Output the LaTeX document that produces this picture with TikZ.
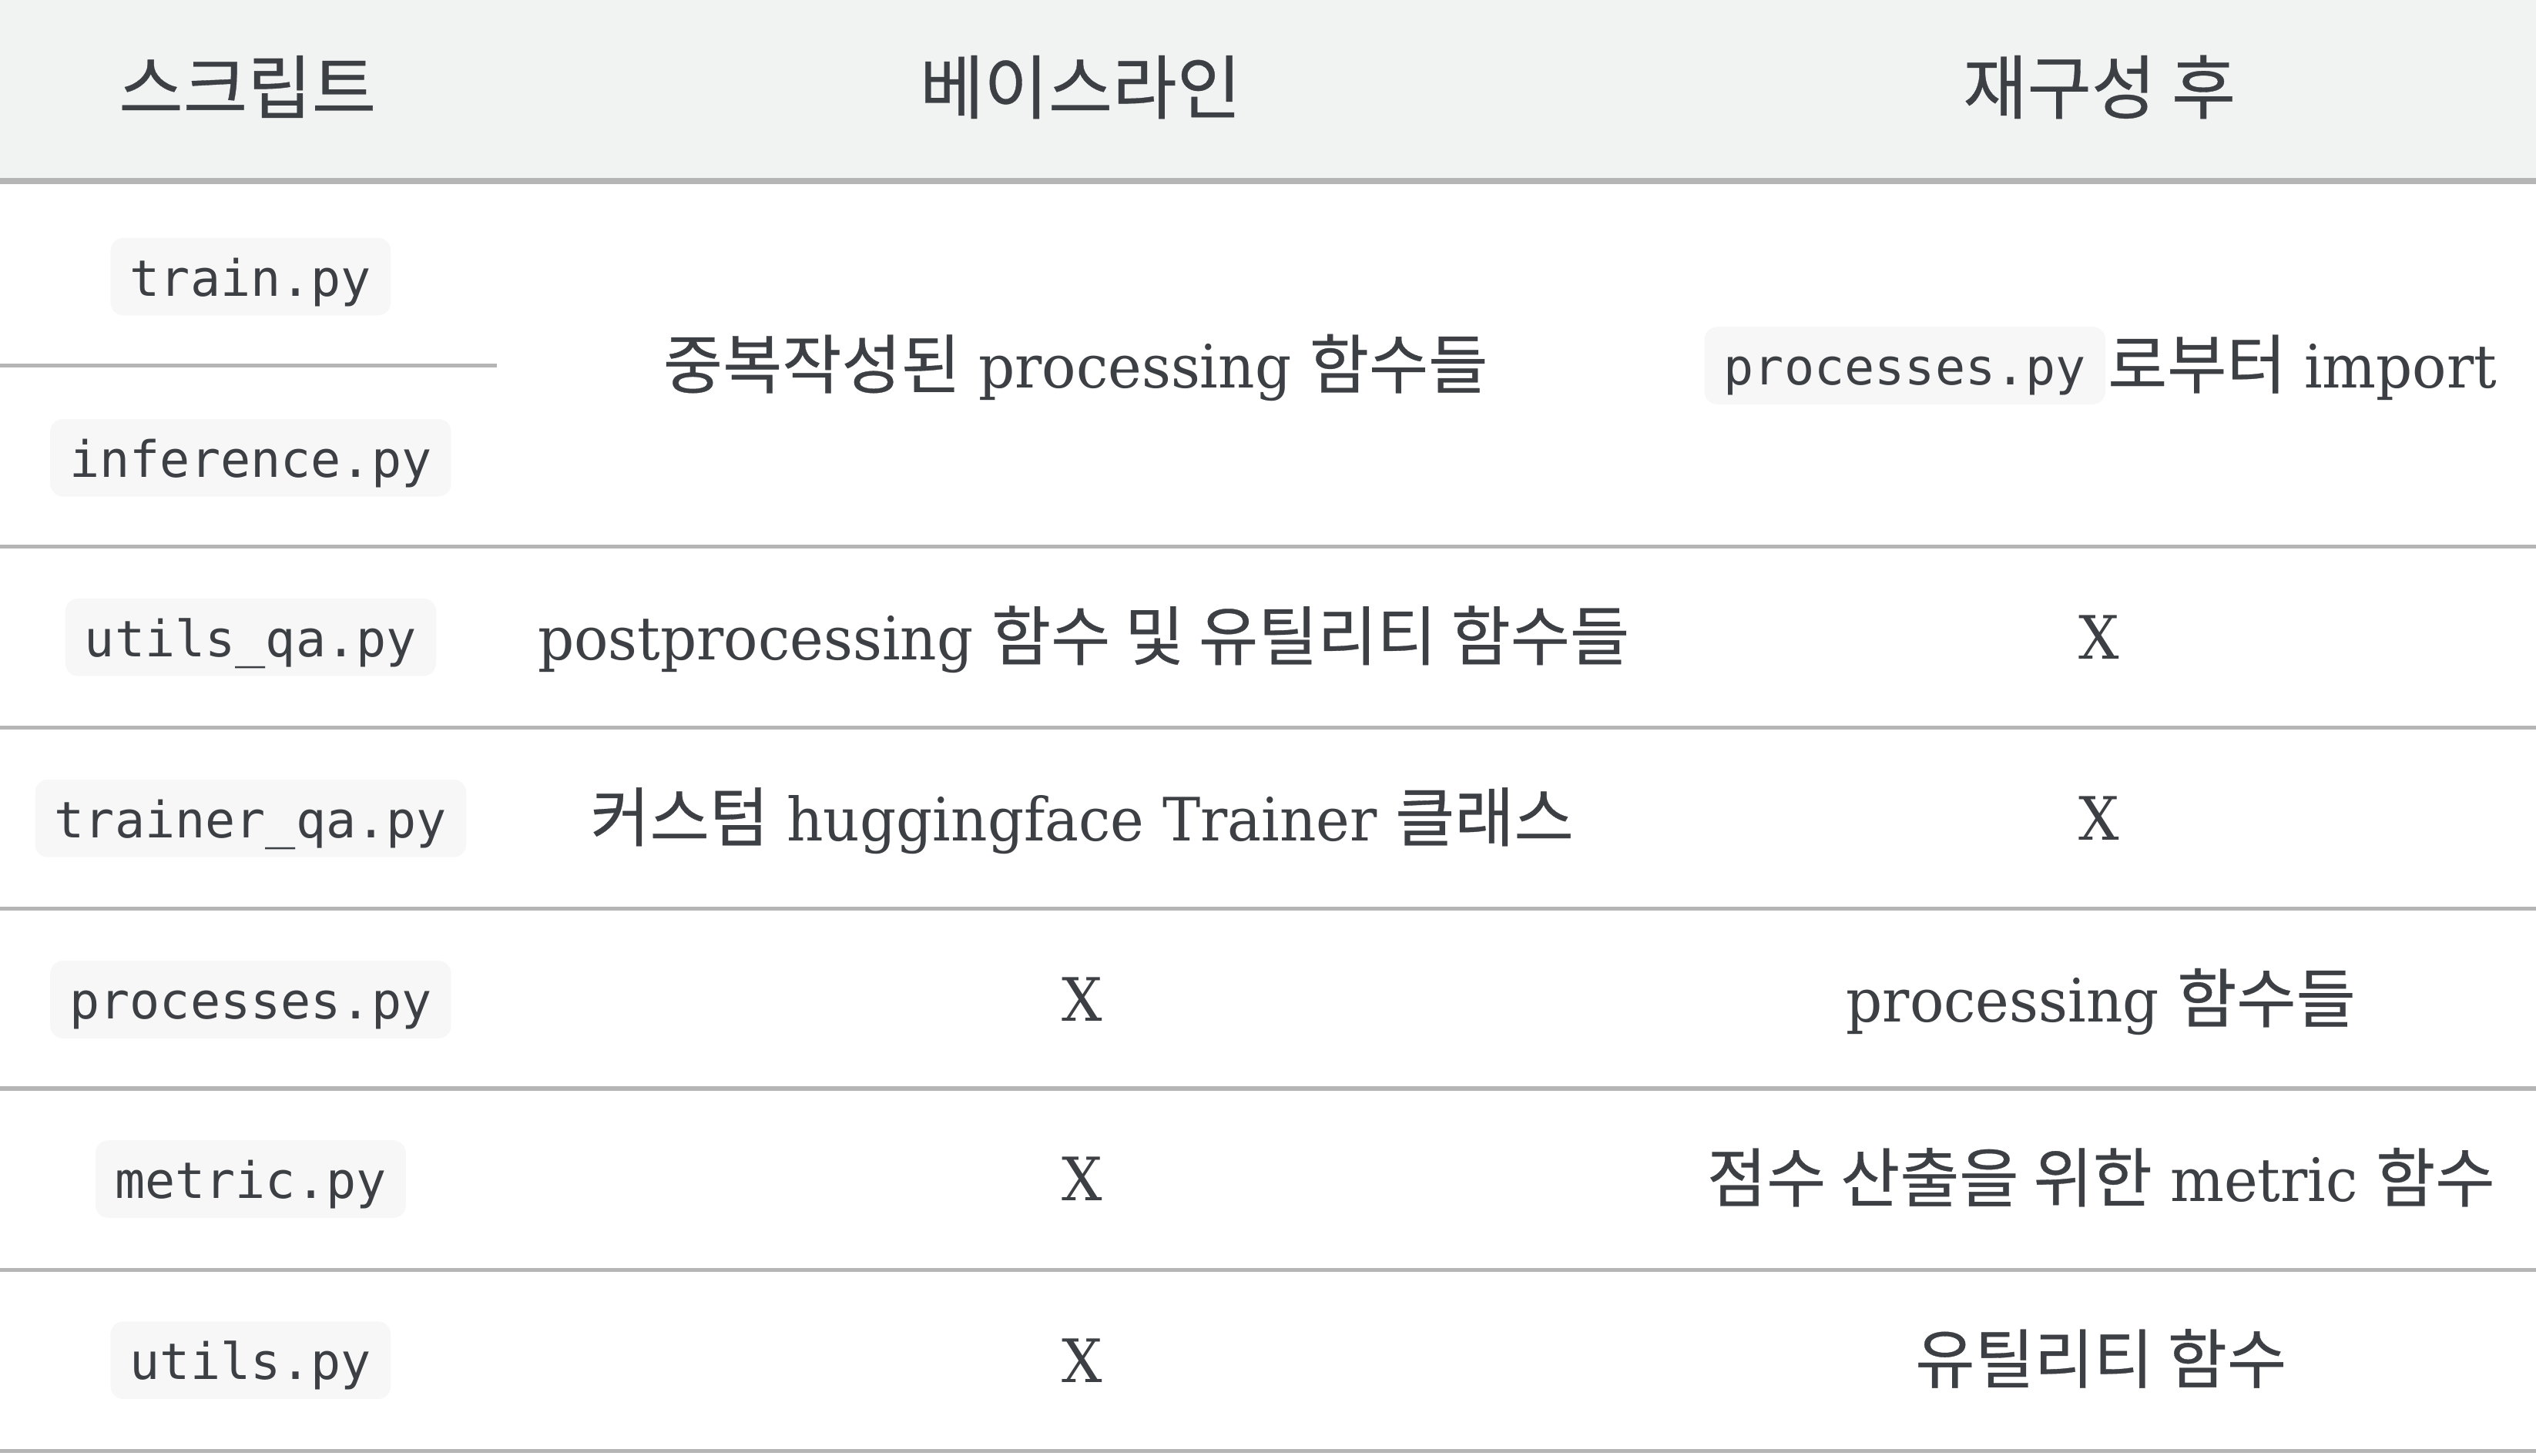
\documentclass[tikz,border=0pt]{standalone}
\usepackage{fontspec}
\setmainfont[FakeStretch=0.95]{DejaVu Serif}
\newfontfamily\krfont[Scale=1.08,FakeBold=0.4]{Noto Sans CJK KR}
\newfontfamily\monofont{DejaVu Sans Mono}
\definecolor{txt}{HTML}{3C3F43}
\definecolor{headbg}{HTML}{F1F3F2}
\definecolor{rule}{HTML}{B5B5B5}
\definecolor{codebg}{HTML}{F7F7F7}
\newcommand{\kr}[1]{{\krfont #1}}
\begin{document}
\begin{tikzpicture}[x=1pt,y=1pt,
  headtxt/.style={text=txt, font=\krfont\fontsize{40}{48}\selectfont, inner sep=0pt, anchor=base},
  celltxt/.style={text=txt, font=\fontsize{37}{44}\selectfont, inner sep=0pt, anchor=base},
  codebox/.style={fill=codebg, rounded corners=8pt, text=txt,
    font=\monofont\fontsize{31}{31}\selectfont, inner xsep=12pt, inner ysep=0pt,
    minimum height=48pt, text height=29pt, text depth=5pt},
  thinrule/.style={draw=rule, line width=2.4pt},
  thickrule/.style={draw=rule, line width=4pt}]
\useasboundingbox (0,0) rectangle (1568,-900);
% header
\fill[headbg] (0,0) rectangle (1568,-110);
\draw[thickrule] (0,-112) -- (1568,-112);
\node[headtxt] (h1) at (153,-70) {스크립트};
\node[headtxt] (h2) at (668,-70) {베이스라인};
\node[headtxt] (h3) at (1298,-70) {재구성 후};
% rules
\draw[thinrule] (0,-226) -- (307,-226);
\foreach \y in {338,450,562,673,785,897} \draw[thinrule] (0,-\y) -- (1568,-\y);
% column 1
\node[codebox] (c1a) at (155,-171) {train.py};
\node[codebox] (c1b) at (155,-283) {inference.py};
\node[codebox] (c2) at (155,-394) {utils\_qa.py};
\node[codebox] (c3) at (155,-506) {trainer\_qa.py};
\node[codebox] (c4) at (155,-618) {processes.py};
\node[codebox] (c5) at (155,-729) {metric.py};
\node[codebox] (c6) at (155,-841) {utils.py};
% column 2
\node[celltxt] (b1) at (665,-240) {\kr{중복작성된} processing \kr{함수들}};
\node[celltxt] (b2) at (670,-408) {postprocessing \kr{함수 및 유틸리티 함수들}};
\node[celltxt] (b3) at (669,-520) {\kr{커스텀} huggingface Trainer \kr{클래스}};
\node[celltxt] (b4) at (669,-631.5) {X};
\node[celltxt] (b5) at (669,-742.5) {X};
\node[celltxt] (b6) at (669,-854.5) {X};
% column 3
\node[codebox, anchor=east] (a1c) at (1302,-226) {processes.py};
\node[celltxt, anchor=base west] (a1t) at ([xshift=1pt]a1c.east |- 0,-240) {\kr{로부터} import};
\node[celltxt] (a2) at (1298,-407.5) {X};
\node[celltxt] (a3) at (1298,-519.5) {X};
\node[celltxt] (a4) at (1299,-632) {processing \kr{함수들}};
\node[celltxt] (a5) at (1299,-743) {\kr{점수 산출을 위한} metric \kr{함수}};
\node[celltxt] (a6) at (1299,-855) {\kr{유틸리티 함수}};
\end{tikzpicture}
\end{document}
